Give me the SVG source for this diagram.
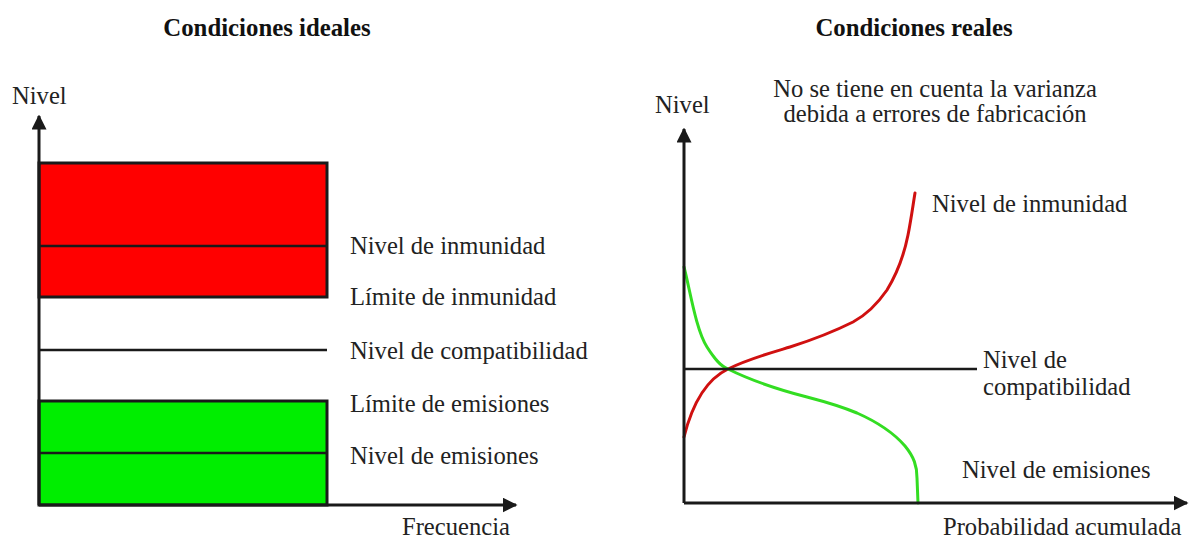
<svg xmlns="http://www.w3.org/2000/svg" width="1189" height="538" viewBox="0 0 1189 538">
<defs>
<marker id="arr" viewBox="0 0 10 10" refX="9" refY="5" markerWidth="5" markerHeight="5" orient="auto" markerUnits="strokeWidth">
<path d="M0,0 L10,5 L0,10 Z" fill="#1a1a1a"/>
</marker>
<style>
text{font-family:"Liberation Serif","Times New Roman",serif;font-size:24.6px;fill:#222}
.t{font-weight:bold;font-size:24.8px;text-anchor:middle;fill:#111}
.ax{stroke:#1a1a1a;stroke-width:3;fill:none}
.ln{stroke:#1a1a1a;stroke-width:2.5;fill:none}
.cv{stroke-width:3;fill:none;stroke-linecap:round}
</style>
</defs>
<rect width="1189" height="538" fill="#fff"/>
<text class="t" x="267" y="36">Condiciones ideales</text>
<text class="t" x="914" y="36">Condiciones reales</text>

<g id="left-chart">
<g id="immunity-box">
<rect x="39" y="163" width="288" height="134" fill="#ff0000" stroke="#1a1a1a" stroke-width="3"/>
<line class="ln" x1="39" y1="246" x2="327" y2="246"/>
</g>
<g id="emission-box">
<rect x="39" y="401" width="288" height="104" fill="#00ee00" stroke="#1a1a1a" stroke-width="3"/>
<line class="ln" x1="39" y1="453" x2="327" y2="453"/>
</g>
<line id="compat-line" class="ln" x1="39" y1="350" x2="327" y2="350"/>
<text x="12" y="104">Nivel</text>
<text x="350" y="254">Nivel de inmunidad</text>
<text x="350" y="305">Límite de inmunidad</text>
<text x="350" y="359">Nivel de compatibilidad</text>
<text x="350" y="412">Límite de emisiones</text>
<text x="350" y="464">Nivel de emisiones</text>
<text x="402" y="535">Frecuencia</text>
</g>

<g id="right-chart">
<path id="immunity-curve" class="cv" stroke="#d01010" d="M684,437 C692,405 705,380 728,369 C748,359 770,353 790,347 C815,339 835,331 853,322 C868,314 878,303 887,290 C898,272 905,250 908,235 C911,220 913,205 915,193"/>
<path id="emission-curve" class="cv" stroke="#33dd22" d="M684,267 C690,290 696,330 707,347 C714,358 720,366 728,369 C750,380 780,390 807,397 C830,403 845,408 857,413 C875,421 893,432 905,446 C914,457 917,466 917,478 L918,503"/>
<line id="compat-line-r" class="ln" x1="684" y1="369" x2="977" y2="369"/>
<text x="655" y="113">Nivel</text>
<text x="935" y="97" text-anchor="middle">No se tiene en cuenta la varianza</text>
<text x="935" y="122" text-anchor="middle">debida a errores de fabricación</text>
<text x="932" y="212">Nivel de inmunidad</text>
<text x="983" y="368">Nivel de</text>
<text x="983" y="395">compatibilidad</text>
<text x="962" y="478">Nivel de emisiones</text>
<text x="943" y="535">Probabilidad acumulada</text>
</g>

<g id="connectors">
<line class="ax" x1="39" y1="505" x2="39" y2="116" marker-end="url(#arr)"/>
<line class="ax" x1="39" y1="505" x2="516" y2="505" marker-end="url(#arr)"/>
<line class="ax" x1="684" y1="503" x2="684" y2="129" marker-end="url(#arr)"/>
<line class="ax" x1="684" y1="503" x2="1187" y2="503" marker-end="url(#arr)"/>
</g>
</svg>
